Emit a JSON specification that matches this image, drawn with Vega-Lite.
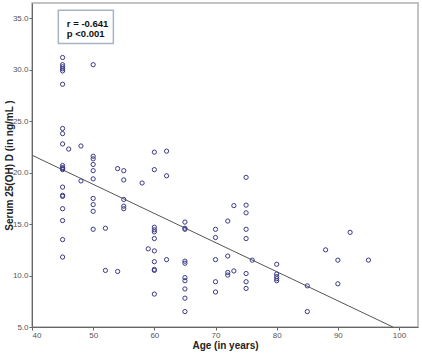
{
  "$schema": "https://vega.github.io/schema/vega-lite/v6.json",
  "autosize": "none",
  "width": 386,
  "height": 324,
  "padding": {"left": 32, "top": 3, "right": 4, "bottom": 27},
  "background": "white",
  "config": {
    "font": "Liberation Sans",
    "view": {"stroke": "#b0b0b0", "strokeWidth": 1.5},
    "axis": {"grid": false, "domainColor": "#666", "tickColor": "#666", "labelColor": "#555", "labelFontSize": 8, "tickSize": 3, "titleFontSize": 10, "titleFontWeight": "bold", "titleColor": "#222"}
  },
  "datasets": {
    "pts": [
      {"age": 45, "vitd": 31.2}, {"age": 45, "vitd": 30.5}, {"age": 45, "vitd": 30.3}, {"age": 45, "vitd": 30.1}, {"age": 45, "vitd": 29.9},
      {"age": 45, "vitd": 28.6}, {"age": 45, "vitd": 24.3}, {"age": 45, "vitd": 23.8}, {"age": 45, "vitd": 22.8}, {"age": 45, "vitd": 20.7},
      {"age": 45, "vitd": 20.5}, {"age": 45, "vitd": 20.4}, {"age": 45, "vitd": 20.3}, {"age": 45, "vitd": 18.6}, {"age": 45, "vitd": 17.8},
      {"age": 45, "vitd": 17.7}, {"age": 45, "vitd": 16.5}, {"age": 45, "vitd": 15.35}, {"age": 45, "vitd": 13.5}, {"age": 45, "vitd": 11.8},
      {"age": 46, "vitd": 22.3},
      {"age": 48, "vitd": 22.6}, {"age": 48, "vitd": 19.2},
      {"age": 50, "vitd": 30.5}, {"age": 50, "vitd": 21.6}, {"age": 50, "vitd": 21.35}, {"age": 50, "vitd": 20.8}, {"age": 50, "vitd": 20.2},
      {"age": 50, "vitd": 19.4}, {"age": 50, "vitd": 17.5}, {"age": 50, "vitd": 16.9}, {"age": 50, "vitd": 16.25}, {"age": 50, "vitd": 14.5},
      {"age": 52, "vitd": 14.6}, {"age": 52, "vitd": 10.5},
      {"age": 54, "vitd": 20.4}, {"age": 54, "vitd": 10.4},
      {"age": 55, "vitd": 20.2}, {"age": 55, "vitd": 19.3}, {"age": 55, "vitd": 17.4}, {"age": 55, "vitd": 16.75}, {"age": 55, "vitd": 16.5},
      {"age": 58, "vitd": 19.0},
      {"age": 59, "vitd": 12.6},
      {"age": 60, "vitd": 22.0}, {"age": 60, "vitd": 20.3}, {"age": 60, "vitd": 14.7}, {"age": 60, "vitd": 14.45}, {"age": 60, "vitd": 14.25},
      {"age": 60, "vitd": 13.6}, {"age": 60, "vitd": 12.4}, {"age": 60, "vitd": 11.35}, {"age": 60, "vitd": 10.6}, {"age": 60, "vitd": 10.5},
      {"age": 60, "vitd": 8.2},
      {"age": 62, "vitd": 22.1}, {"age": 62, "vitd": 19.7}, {"age": 62, "vitd": 11.55},
      {"age": 65, "vitd": 15.2}, {"age": 65, "vitd": 14.6}, {"age": 65, "vitd": 14.5}, {"age": 65, "vitd": 11.4}, {"age": 65, "vitd": 11.2},
      {"age": 65, "vitd": 9.8}, {"age": 65, "vitd": 9.5}, {"age": 65, "vitd": 8.7}, {"age": 65, "vitd": 7.8}, {"age": 65, "vitd": 6.5},
      {"age": 70, "vitd": 14.5}, {"age": 70, "vitd": 13.7}, {"age": 70, "vitd": 11.55}, {"age": 70, "vitd": 9.4}, {"age": 70, "vitd": 8.4},
      {"age": 72, "vitd": 15.3}, {"age": 72, "vitd": 11.9}, {"age": 72, "vitd": 10.3}, {"age": 72, "vitd": 10.05},
      {"age": 73, "vitd": 16.8}, {"age": 73, "vitd": 10.45},
      {"age": 75, "vitd": 19.55}, {"age": 75, "vitd": 16.85}, {"age": 75, "vitd": 16.1}, {"age": 75, "vitd": 14.5}, {"age": 75, "vitd": 13.6},
      {"age": 75, "vitd": 10.2}, {"age": 75, "vitd": 9.4}, {"age": 75, "vitd": 8.75},
      {"age": 76, "vitd": 11.5},
      {"age": 80, "vitd": 11.1}, {"age": 80, "vitd": 10.15}, {"age": 80, "vitd": 9.9}, {"age": 80, "vitd": 9.7}, {"age": 80, "vitd": 9.5},
      {"age": 85, "vitd": 9.0}, {"age": 85, "vitd": 6.5},
      {"age": 88, "vitd": 12.5},
      {"age": 90, "vitd": 11.5}, {"age": 90, "vitd": 9.2},
      {"age": 92, "vitd": 14.2},
      {"age": 95, "vitd": 11.5}
    ],
    "fit": [{"age": 40, "vitd": 21.7}, {"age": 99, "vitd": 5.0}],
    "box": [{"x1": 44.3, "x2": 53.3, "y1": 35.8, "y2": 32.57}],
    "labels": [{"age": 45.7, "vitd": 34.5, "txt": "r = -0.641"}, {"age": 45.7, "vitd": 33.45, "txt": "p <0.001"}]
  },
  "layer": [
    {
      "data": {"name": "box"},
      "mark": {"type": "rect", "fill": "white", "stroke": "#a7b4c2", "strokeWidth": 1.5},
      "encoding": {
        "x": {"field": "x1", "type": "quantitative", "scale": {"domain": [40, 103.1], "nice": false, "zero": false}},
        "x2": {"field": "x2"},
        "y": {"field": "y1", "type": "quantitative", "scale": {"domain": [5, 36.5], "nice": false, "zero": false}},
        "y2": {"field": "y2"}
      }
    },
    {
      "data": {"name": "labels"},
      "mark": {"type": "text", "align": "left", "baseline": "middle", "fontWeight": "bold", "fontSize": 9.5, "color": "#111"},
      "encoding": {
        "x": {"field": "age", "type": "quantitative"},
        "y": {"field": "vitd", "type": "quantitative"},
        "text": {"field": "txt"}
      }
    },
    {
      "data": {"name": "fit"},
      "mark": {"type": "line", "color": "#555", "strokeWidth": 1},
      "encoding": {
        "x": {"field": "age", "type": "quantitative"},
        "y": {"field": "vitd", "type": "quantitative"}
      }
    },
    {
      "data": {"name": "pts"},
      "mark": {"type": "point", "shape": "circle", "filled": false, "stroke": "#3a3a86", "strokeWidth": 1, "size": 18, "opacity": 1},
      "encoding": {
        "x": {"field": "age", "type": "quantitative", "title": "Age (in years)",
              "axis": {"values": [40, 50, 60, 70, 80, 90, 100], "titlePadding": 1, "labelPadding": 1}},
        "y": {"field": "vitd", "type": "quantitative", "title": "Serum  25(OH) D (in ng/mL )",
              "axis": {"values": [5, 10, 15, 20, 25, 30, 35], "format": ".1f", "titlePadding": -2, "labelPadding": 1}}
      }
    }
  ]
}
